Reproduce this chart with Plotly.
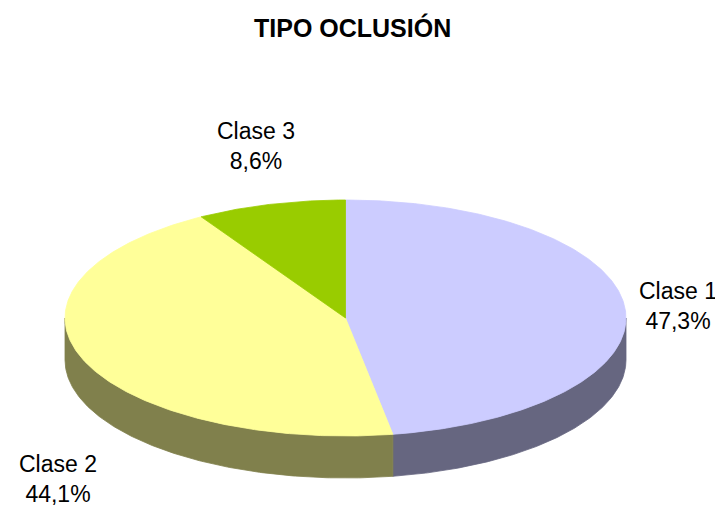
import numpy as np
import plotly.graph_objects as go

# ---- data ----
categories = ["Clase 1", "Clase 2", "Clase 3"]
percentages = [47.3, 44.1, 8.6]
title_text = "TIPO OCLUSIÓN"

# ---- styles ----
top_colors = ["#CCCCFF", "#FFFF99", "#99CC00"]
side_colors = ["#666680", "#80804C", "#4D6600"]

# pseudo-3D geometry (pixel space of the page)
CX, CY, RX, RY, DEPTH = 345.5, 318, 280.5, 118, 42
label_pos = [(678, 306), (58, 479), (256, 146)]
PAGE_OFFSET = 8  # browser body margin

def pt(theta_deg, dy=0.0):
    t = np.radians(theta_deg)
    return CX + RX * np.sin(t), CY - RY * np.cos(t) + dy

fig = go.Figure()

total = sum(percentages)
bounds = np.concatenate([[0], np.cumsum(percentages) / total * 360])

# side walls (front half only: 90..270 deg clockwise from top)
for i in range(len(categories)):
    lo = max(bounds[i], 90)
    hi = min(bounds[i + 1], 270)
    if hi <= lo:
        continue
    th = np.linspace(lo, hi, 200)
    xt, yt = pt(th)
    xb, yb = pt(th[::-1], DEPTH)
    xs = np.concatenate([xt, xb, xt[:1]])
    ys = np.concatenate([yt, yb, yt[:1]])
    fig.add_trace(go.Scatter(x=xs, y=ys, mode="lines", fill="toself",
                             fillcolor=side_colors[i],
                             line=dict(color=side_colors[i], width=0.8),
                             hoverinfo="skip", showlegend=False))

# top faces
for i in range(len(categories)):
    th = np.linspace(bounds[i], bounds[i + 1], 300)
    xa, ya = pt(th)
    xs = np.concatenate([[CX], xa, [CX]])
    ys = np.concatenate([[CY], ya, [CY]])
    fig.add_trace(go.Scatter(x=xs, y=ys, mode="lines", fill="toself",
                             fillcolor=top_colors[i],
                             line=dict(color=top_colors[i], width=0.8),
                             hoverinfo="skip", showlegend=False,
                             name=categories[i]))

# labels
for cat, pct, (lx, ly) in zip(categories, percentages, label_pos):
    txt = f"{cat}<br>{pct:.1f}%".replace(".", ",")
    fig.add_annotation(x=lx, y=ly, text=txt, showarrow=False,
                       xanchor="center", yanchor="middle", align="center",
                       font=dict(family="Liberation Sans, Arial", size=23, color="black"))

fig.add_annotation(x=352, y=27, text=f"<b>{title_text}</b>", showarrow=False,
                   xanchor="center", yanchor="middle",
                   font=dict(family="Liberation Sans, Arial", size=25, color="black"))

fig.update_layout(
    width=723 - PAGE_OFFSET, height=508 - PAGE_OFFSET,
    margin=dict(l=0, r=0, t=0, b=0),
    paper_bgcolor="white", plot_bgcolor="white",
    xaxis=dict(range=[PAGE_OFFSET, 723], visible=False, fixedrange=True),
    yaxis=dict(range=[508, PAGE_OFFSET], visible=False, fixedrange=True),
    showlegend=False,
)

fig.write_html("out.html")
